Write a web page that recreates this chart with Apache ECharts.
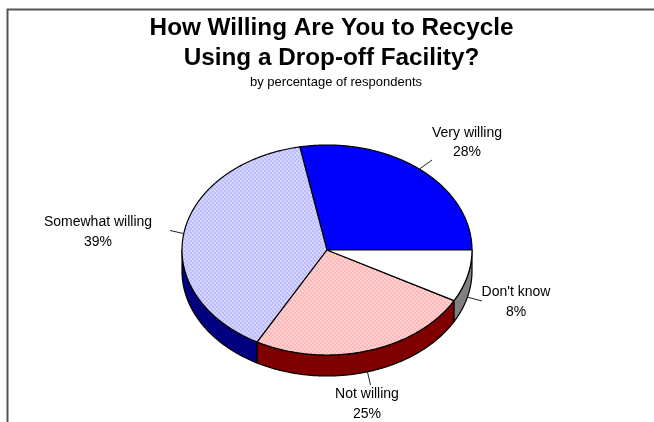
<!DOCTYPE html>
<html><head><meta charset="utf-8">
<style>html,body{margin:0;padding:0;background:#fff}#c{width:654px;height:422px}</style>
<script src="https://cdn.jsdelivr.net/npm/echarts@6/dist/echarts.min.js"></script>
</head><body><div id="c"></div>
<script>
const categories = ['Very willing', 'Somewhat willing', 'Not willing', "Don't know"];
const values = [28, 39, 25, 8];
const titleLines = ['How Willing Are You to Recycle', 'Using a Drop-off Facility?'];
const subtitle = 'by percentage of respondents';

const CX = 327, CY = 250, RX = 145, RY = 105, DEPTH = 21;
const labelPos = [[467, 142.5], [98, 232], [367, 404], [516, 302]];
const leaderEnd = [[432, 160], [170, 230.5], [370.5, 385], [482, 301]];

function dither(a, b) {
  const c = document.createElement('canvas');
  c.width = c.height = 4;
  const x = c.getContext('2d');
  x.fillStyle = a; x.fillRect(0, 0, 4, 4);
  x.fillStyle = b; x.fillRect(0, 0, 2, 2); x.fillRect(2, 2, 2, 2);
  return { image: c, repeat: 'repeat' };
}
const topFill = ['#0000ff', dither('#bcbcff', '#d4d4ff'), dither('#ffb8b8', '#ffd0d0'), '#ffffff'];
const sideFill = ['#000080', '#000080', '#800000', '#808080'];

const total = values.reduce((a, b) => a + b, 0);
const sliceAngles = [];
let acc = 0;
values.forEach((v, i) => { const s = acc; acc += v / total * 360; sliceAngles[i] = [s, acc]; });
const rad = d => d * Math.PI / 180;
const ptTop = (d, dz = 0) => [CX + RX * Math.cos(rad(d)), CY - RY * Math.sin(rad(d)) + dz];

function arc(a, b, dz = 0) {
  const pts = [], n = Math.max(2, Math.ceil(Math.abs(b - a) * 2));
  for (let k = 0; k <= n; k++) pts.push(ptTop(a + (b - a) * k / n, dz));
  return pts;
}
function line(a, b, w = 1, color = '#222') {
  return { type: 'line', silent: true, shape: { x1: a[0], y1: a[1], x2: b[0], y2: b[1] }, style: { stroke: color, lineWidth: w } };
}

function renderItem(params, api) {
  const i = params.dataIndex;
  const [s, e] = sliceAngles[i];
  const children = [];
  const a = Math.max(s, 180), b = Math.min(e, 360);
  if (b > a) {
    children.push({
      type: 'polygon',
      shape: { points: arc(a, b).concat(arc(b, a, DEPTH)) },
      style: { fill: sideFill[i], stroke: '#000', lineWidth: 1.2, lineJoin: 'round' }
    });
  }
  children.push({
    type: 'polygon',
    shape: { points: [[CX, CY]].concat(arc(s, e)) },
    style: { fill: topFill[i], stroke: '#000', lineWidth: 1.2, lineJoin: 'round' }
  });
  const mid = (s + e) / 2;
  const from = ptTop(mid, Math.sin(rad(mid)) < 0 ? DEPTH : 0);
  children.push(line(from, leaderEnd[i]));
  children.push({
    type: 'text',
    style: {
      x: labelPos[i][0], y: labelPos[i][1],
      text: categories[i] + '\n' + api.value(0) + '%',
      align: 'center', verticalAlign: 'middle',
      font: '14px "Liberation Sans"', lineHeight: 19.5, fill: '#000'
    }
  });
  return { type: 'group', children };
}

function centered(text, x, y, font) {
  return { type: 'text', silent: true, style: { x, y, text, align: 'center', verticalAlign: 'middle', font, fill: '#000' } };
}

const chart = echarts.init(document.getElementById('c'), null, { renderer: 'canvas' });
chart.setOption({
  animation: false,
  backgroundColor: '#fff',
  graphic: [
    { type: 'polyline', silent: true, shape: { points: [[7.5, 422], [7.5, 9.5], [654, 9.5]] },
      style: { fill: null, stroke: '#555', lineWidth: 2 } },
    centered(titleLines[0], 331.5, 28, 'bold 24.3px "Liberation Sans"'),
    centered(titleLines[1], 331.5, 58, 'bold 24.3px "Liberation Sans"'),
    centered(subtitle, 336, 82, '13px "Liberation Sans"')
  ],
  series: [{
    type: 'custom',
    coordinateSystem: 'none',
    renderItem,
    clip: false,
    data: values.map((v, i) => ({ name: categories[i], value: [v] }))
  }]
});
</script></body></html>
